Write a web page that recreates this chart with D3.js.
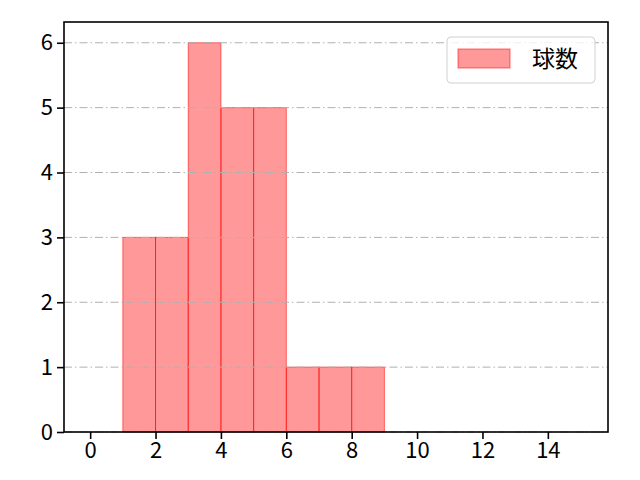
<!DOCTYPE html>
<html>
<head>
<meta charset="utf-8">
<script src="https://cdn.jsdelivr.net/npm/d3@7"></script>
<style>
  body { margin: 0; background: #fff; }
  text { font-family: "Noto Sans CJK JP", "DejaVu Sans", sans-serif; }
  .tick text { font-size: 22px; fill: #000; }
</style>
</head>
<body>
<svg id="chart" width="640" height="480"></svg>
<script>
// histogram bins (left edge, width 1) and counts
const binStarts = [1, 2, 3, 4, 5, 6, 7, 8];
const counts = [3, 3, 6, 5, 5, 1, 1, 1];
const xTicks = [0, 2, 4, 6, 8, 10, 12, 14];
const yTicks = [0, 1, 2, 3, 4, 5, 6];
const seriesName = "球数";

const svg = d3.select("#chart");
const mLeft = 64, mRight = 608, mTop = 22, mBottom = 432;

const x = d3.scaleLinear().domain([-0.8, 15.84]).range([mLeft, mRight]);
const y = d3.scaleLinear().domain([0, 6.32]).range([mBottom, mTop]);

// bars
svg.append("g")
  .selectAll("rect")
  .data(binStarts)
  .enter().append("rect")
  .attr("x", d => x(d))
  .attr("width", d => x(d + 1) - x(d))
  .attr("y", (d, i) => y(counts[i]))
  .attr("height", (d, i) => y(0) - y(counts[i]))
  .attr("fill", "#ff0000")
  .attr("fill-opacity", 0.4)
  .attr("stroke", "#ff0000")
  .attr("stroke-opacity", 0.55)
  .attr("stroke-width", 1);

// horizontal grid (drawn above bars, like matplotlib)
svg.append("g")
  .selectAll("line")
  .data(yTicks)
  .enter().append("line")
  .attr("x1", mLeft).attr("x2", mRight)
  .attr("y1", d => y(d)).attr("y2", d => y(d))
  .attr("stroke", "#b0b0b0")
  .attr("stroke-width", 1)
  .attr("stroke-dasharray", "8,3,1.5,3");

// axes
const xAxis = svg.append("g")
  .attr("transform", `translate(0,${mBottom})`)
  .call(d3.axisBottom(x).tickValues(xTicks).tickFormat(d3.format("d")).tickSize(7).tickPadding(3));
const yAxis = svg.append("g")
  .attr("transform", `translate(${mLeft},0)`)
  .call(d3.axisLeft(y).tickValues(yTicks).tickFormat(d3.format("d")).tickSize(7).tickPadding(4));

[xAxis, yAxis].forEach(a => {
  a.select(".domain").remove();
  a.selectAll(".tick line").attr("stroke", "#000").attr("stroke-width", 1.6);
});

// frame
svg.append("rect")
  .attr("x", mLeft).attr("y", mTop)
  .attr("width", mRight - mLeft).attr("height", mBottom - mTop)
  .attr("fill", "none")
  .attr("stroke", "#000")
  .attr("stroke-width", 1.6);

// legend
const lg = svg.append("g");
lg.append("rect")
  .attr("x", 447).attr("y", 37).attr("width", 148).attr("height", 46)
  .attr("rx", 4)
  .attr("fill", "#fff").attr("fill-opacity", 0.8)
  .attr("stroke", "#d0d0d0").attr("stroke-width", 1);
lg.append("rect")
  .attr("x", 458).attr("y", 49).attr("width", 52).attr("height", 19)
  .attr("fill", "#ff0000").attr("fill-opacity", 0.4)
  .attr("stroke", "#ff0000").attr("stroke-opacity", 0.55);
lg.append("text")
  .attr("x", 532).attr("y", 67)
  .style("font-size", "23px")
  .attr("fill", "#000")
  .text(seriesName);
</script>
</body>
</html>
